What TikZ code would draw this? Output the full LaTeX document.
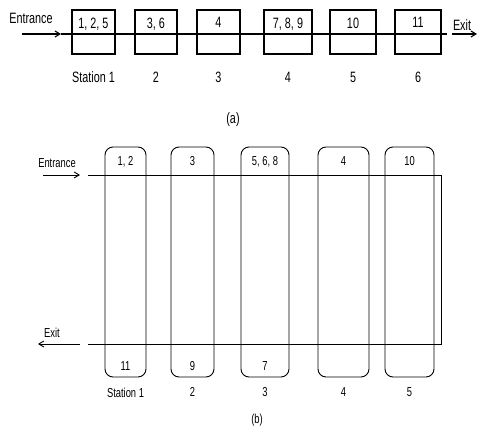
\documentclass[tikz,border=0pt]{standalone}
\usepackage{fontspec}
\newfontfamily\narrowsf[FakeStretch=0.72]{Liberation Sans}
\usetikzlibrary{positioning,arrows.meta}
\tikzset{
  >={Straight Barb[length=5pt,width=6pt]},
  txta/.style={font=\narrowsf\fontsize{15}{15}\selectfont, inner sep=1pt},
  txtb/.style={font=\narrowsf\fontsize{13}{13}\selectfont, inner sep=1pt},
  boxa/.style={draw, line width=1.1pt, minimum height=44pt},
  boxb/.style={draw, line width=0.9pt, rounded corners=8pt, minimum height=230pt},
}
\begin{document}
\begin{tikzpicture}[x=1pt,y=-1pt]
  \useasboundingbox (0,0) rectangle (477,427);
  % (a) flow line
  \foreach \n/\x/\w/\t/\s in {1/93.5/43/{1, 2, 5}/{Station 1}, 2/156/42/{3, 6}/2,
      3/218.5/43/4/3, 4/288/48/{7, 8, 9}/4, 5/353/46/10/5, 6/418/46/11/6}{
    \node[boxa, minimum width=\w pt] (a\n) at (\x,32) {};
    \node[txta, below=7pt of a\n.north] {\t};
    \node[txta, below=16pt of a\n] {\s};
  }
  \coordinate (ina) at (22,34);
  \coordinate (ina2) at (61,34);
  \coordinate (outa) at (447,34);
  \coordinate (outa2) at (452,34);
  \coordinate (outa3) at (477,34);
  \node[txta] (enta) at (31,18) {Entrance};
  \node[txta] (exa) at (462,25) {Exit};
  \draw[line width=1.1pt, ->] (ina) -- (ina2);
  \draw[line width=1.1pt] (ina2) -- (outa);
  \draw[line width=1.1pt, ->] (outa2) -- (outa3);
  \node[txta] (capa) at (233,120) {(a)};
  % (b) loop line
  \foreach \n/\x/\w/\t/\u/\s in {1/125.5/41/{1, 2}/11/{Station 1}, 2/192.5/43/3/9/2,
      3/265/48/{5, 6, 8}/7/3, 4/343.5/51/4//4, 5/409.5/49/10//5}{
    \node[boxb, minimum width=\w pt] (b\n) at (\x,262) {};
    \node[txtb, below=9pt of b\n.north] {\t};
    \node[txtb, above=6pt of b\n.south] {\u};
    \node[txtb, below=9pt of b\n] {\s};
  }
  \coordinate (inb) at (43,175);
  \coordinate (inb2) at (80,175);
  \coordinate (lt) at (88,175);
  \coordinate (rt) at (441,175);
  \coordinate (rb) at (441,344);
  \coordinate (lb) at (88,344);
  \coordinate (outb) at (80,344);
  \coordinate (outb2) at (38,344);
  \node[txtb] (entb) at (57,163) {Entrance};
  \node[txtb] (exb) at (52,333) {Exit};
  \draw[line width=0.9pt, ->] (inb) -- (inb2);
  \draw[line width=0.9pt] (lt) -- (rt) -- (rb) -- (lb);
  \draw[line width=0.9pt, ->] (outb) -- (outb2);
  \node[txtb] (capb) at (257,420) {(b)};
\end{tikzpicture}
\end{document}
